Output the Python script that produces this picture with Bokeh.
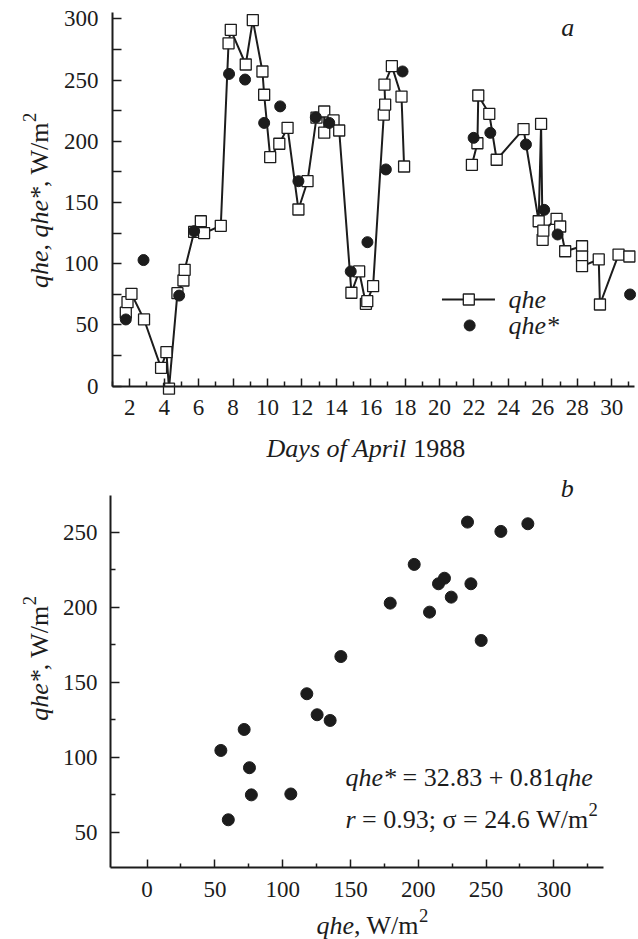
import math
from bokeh.plotting import figure
from bokeh.models import Range1d, FixedTicker, Label
from bokeh.layouts import column
from bokeh.embed import file_html
from bokeh.resources import INLINE

# ---------------- data: panel a (April 1988) ----------------
qhe_day_1 = [1.77, 1.87, 2.10, 2.83, 3.82, 4.13, 4.28, 4.77, 5.12, 5.19, 5.74, 6.13, 6.32,
             7.29, 7.74, 7.87, 8.74, 9.15, 9.71, 9.81, 10.16, 10.69, 11.17, 11.80, 12.33,
             12.85, 13.30, 13.30, 13.84, 14.17, 14.88, 15.33, 15.72, 15.80, 16.14, 16.76,
             16.84, 16.80, 17.23, 17.79, 17.94]
qhe_val_1 = [60, 68.6, 75.4, 54.5, 15, 27.8, -2, 76, 86.3, 95, 126, 134.7, 125,
             131, 280, 291, 262.7, 299, 257, 238, 187, 198, 211, 144.3, 167.4,
             219.3, 224.3, 207, 217, 208.8, 76.3, 93.7, 67.3, 69.4, 81.7, 221.8,
             230, 246.3, 261.3, 236.5, 179.4]
qhe_day_2 = [21.88, 22.20, 22.25, 22.89, 23.32, 24.88, 25.76, 25.90, 25.99, 26.03, 26.80,
             27.01, 27.30, 28.28, 28.28, 28.28, 29.25, 29.32, 30.40, 31.03]
qhe_val_2 = [180.8, 198.4, 237.4, 222.4, 184.9, 210, 134.7, 214.2, 119.5, 127, 136.7,
             130.4, 110.2, 114.3, 105.9, 98, 103.5, 66.7, 107.5, 105.9]
qhes_day = [1.77, 2.80, 4.87, 5.74, 7.77, 8.70, 9.81, 10.74, 11.80, 12.81, 13.59, 14.84,
            15.81, 16.88, 17.85, 21.98, 22.95, 25.02, 26.08, 26.86, 31.07]
qhes_val = [54.5, 103, 74, 126.6, 255, 250.4, 215, 228.5, 167.4, 219.6, 215, 93.7,
            117.6, 177, 257, 202.8, 206.9, 197.4, 144, 123.9, 74.9]
day_ticks = list(range(2, 31, 2))
day_minor = list(range(1, 32, 2))
a_y_ticks = [0, 50, 100, 150, 200, 250, 300]
a_y_minor = [25, 75, 125, 175, 225, 275]

# ---------------- data: panel b (qhe* vs qhe) ----------------
b_qhe = [142.9, 117.8, 125.4, 135.0, 71.6, 54.4, 75.5, 236.3, 260.9, 280.8, 197.0,
         219.3, 214.9, 238.8, 224.3, 179.3, 208.3, 246.4, 76.9, 106.0, 59.9]
b_qhes = [167.1, 142.3, 128.3, 124.5, 118.5, 104.5, 93.0, 256.7, 250.5, 255.6, 228.5,
          219.3, 215.6, 215.6, 206.7, 202.7, 196.7, 177.8, 74.9, 75.5, 58.3]
b_x_ticks = [0, 50, 100, 150, 200, 250, 300]
b_x_minor = [25, 75, 125, 175, 225, 275, 325]
b_y_ticks = [50, 100, 150, 200, 250]
b_y_minor = [75, 125, 175, 225]

FONT = "Liberation Serif"
INK = "#1c1c1c"

# approximate Times/Liberation Serif advance widths (em)
W_ROMAN = {' ': .25, ',': .25, '=': .564, '+': .564, '.': .25, ';': .278, 'W': .944,
           '/': .278, 'm': .778, 'σ': .55}
W_ITAL = {'q': .5, 'h': .5, 'e': .444, '*': .5, 'r': .389, 'D': .722, 'a': .5, 'y': .444,
          's': .389, 'o': .5, 'f': .278, 'A': .611, 'p': .5, 'i': .278, 'l': .278, ' ': .25}


def text_width(t, style):
    tbl = W_ITAL if style == "italic" else W_ROMAN
    return sum(tbl.get(c, .5) for c in t)


def rich(p, x, y, parts, size, vertical=False):
    """parts: list of (text, style, superscript?); leading/trailing blanks become offsets"""
    off = 0.0
    for t, style, sup in parts:
        fs = size * (0.72 if sup else 1.0)
        rise = size * 0.38 if sup else 0.0
        lead = len(t) - len(t.lstrip(" "))
        trail = len(t) - len(t.rstrip(" "))
        core = t.strip(" ")
        off += lead * 0.25 * fs
        if vertical:
            lab = Label(x=x, y=y, x_offset=-rise, y_offset=off, text=core, angle=math.pi / 2,
                        text_align="left", text_baseline="alphabetic")
        else:
            lab = Label(x=x, y=y, x_offset=off, y_offset=rise, text=core,
                        text_align="left", text_baseline="alphabetic")
        lab.text_font = FONT
        lab.text_font_style = style
        lab.text_font_size = f"{fs:.1f}px"
        lab.text_color = INK
        p.add_layout(lab)
        off += text_width(core, style) * fs + trail * 0.25 * fs


def simple_label(p, x, y, t, style="italic", size=26, align="left"):
    lab = Label(x=x, y=y, text=t, text_align=align, text_baseline="middle")
    lab.text_font = FONT
    lab.text_font_style = style
    lab.text_font_size = f"{size}px"
    lab.text_color = INK
    p.add_layout(lab)


def style_axes(p):
    p.grid.visible = False
    p.outline_line_color = None
    p.background_fill_color = "white"
    p.border_fill_color = "white"
    for ax in (p.xaxis[0], p.yaxis[0]):
        ax.axis_line_color = INK
        ax.axis_line_width = 2
        ax.major_tick_line_color = INK
        ax.minor_tick_line_color = INK
        ax.major_tick_line_width = 1.5
        ax.minor_tick_line_width = 1.5
        ax.major_tick_out = 0
        ax.minor_tick_out = 0
        ax.major_label_text_font = FONT
        ax.major_label_text_font_size = "23px"
        ax.major_label_text_color = INK


# ---------------- panel a ----------------
A_X = (1, 31.3)
A_Y = (0, 305.4)
p1 = figure(frame_width=638, frame_height=470, x_range=Range1d(-5.51, 31.56),
            y_range=Range1d(-68.84, 314.96), output_backend="svg", toolbar_location=None,
            min_border=0)
style_axes(p1)
p1.xaxis.fixed_location = A_Y[0]
p1.xaxis.bounds = A_X
p1.yaxis.fixed_location = A_X[0]
p1.yaxis.bounds = A_Y
p1.xaxis.ticker = FixedTicker(ticks=day_ticks, minor_ticks=day_minor)
p1.xaxis.major_tick_in = 8
p1.xaxis.minor_tick_in = 5
p1.xaxis.major_label_standoff = 14
p1.yaxis.ticker = FixedTicker(ticks=a_y_ticks, minor_ticks=a_y_minor)
p1.yaxis.major_tick_in = 9
p1.yaxis.minor_tick_in = 9
p1.yaxis.major_label_standoff = 14

for dd, vv in ((qhe_day_1, qhe_val_1), (qhe_day_2, qhe_val_2)):
    p1.line(dd, vv, line_color=INK, line_width=2)
    p1.scatter(dd, vv, marker="square", size=11, fill_color="white", line_color=INK,
               line_width=1.3)
p1.scatter(qhes_day, qhes_val, marker="circle", size=11, fill_color=INK, line_color=INK)

# legend (drawn as in the original figure)
p1.line([20.14, 23.22], [70.8, 70.8], line_color=INK, line_width=2)
p1.scatter([21.7], [70.8], marker="square", size=11, fill_color="white", line_color=INK,
           line_width=1.3)
p1.scatter([21.75], [49.6], marker="circle", size=11, fill_color=INK, line_color=INK)
simple_label(p1, 24.0, 70.8, "qhe")
simple_label(p1, 24.0, 49.6, "qhe*")
simple_label(p1, 27.45, 293.1, "a", align="center")

rich(p1, -3.23, 80.1, [("qhe", "italic", False), (", ", "normal", False),
                       ("qhe*", "italic", False), (", W/m", "normal", False),
                       ("2", "normal", True)], 26, vertical=True)
rich(p1, 9.95, -50.9, [("Days of April", "italic", False), (" 1988", "normal", False)], 26)

# ---------------- panel b ----------------
B_X = (-27, 336.6)
B_Y = (26.5, 274.5)
p2 = figure(frame_width=638, frame_height=469, x_range=Range1d(-108.1, 362.4),
            y_range=Range1d(-21.5, 291.1), output_backend="svg", toolbar_location=None,
            min_border=0)
style_axes(p2)
p2.xaxis.fixed_location = B_Y[0]
p2.xaxis.bounds = B_X
p2.yaxis.fixed_location = B_X[0]
p2.yaxis.bounds = B_Y
p2.xaxis.ticker = FixedTicker(ticks=b_x_ticks, minor_ticks=b_x_minor)
p2.xaxis.major_tick_in = 8
p2.xaxis.minor_tick_in = 4
p2.xaxis.major_label_standoff = 15
p2.yaxis.ticker = FixedTicker(ticks=b_y_ticks, minor_ticks=b_y_minor)
p2.yaxis.major_tick_in = 9
p2.yaxis.minor_tick_in = 5
p2.yaxis.major_label_standoff = 13

p2.scatter(b_qhe, b_qhes, marker="circle", size=12, fill_color=INK, line_color=INK)

simple_label(p2, 309.8, 279.1, "b", align="center")

rich(p2, 146.3, 86.5, [("qhe*", "italic", False), (" = 32.83 + 0.81", "normal", False),
                       ("qhe", "italic", False)], 26)
rich(p2, 146.3, 58.3, [("r", "italic", False), (" = 0.93; σ = 24.6 W/m", "normal", False),
                       ("2", "normal", True)], 26)
rich(p2, -79.4, 124.3, [("qhe*", "italic", False), (", W/m", "normal", False),
                        ("2", "normal", True)], 26, vertical=True)
rich(p2, 124.9, -12.2, [("qhe", "italic", False), (", W/m", "normal", False),
                        ("2", "normal", True)], 26)

layout = column(p1, p2, spacing=0)
open("out.html", "w").write(file_html(layout, INLINE))
